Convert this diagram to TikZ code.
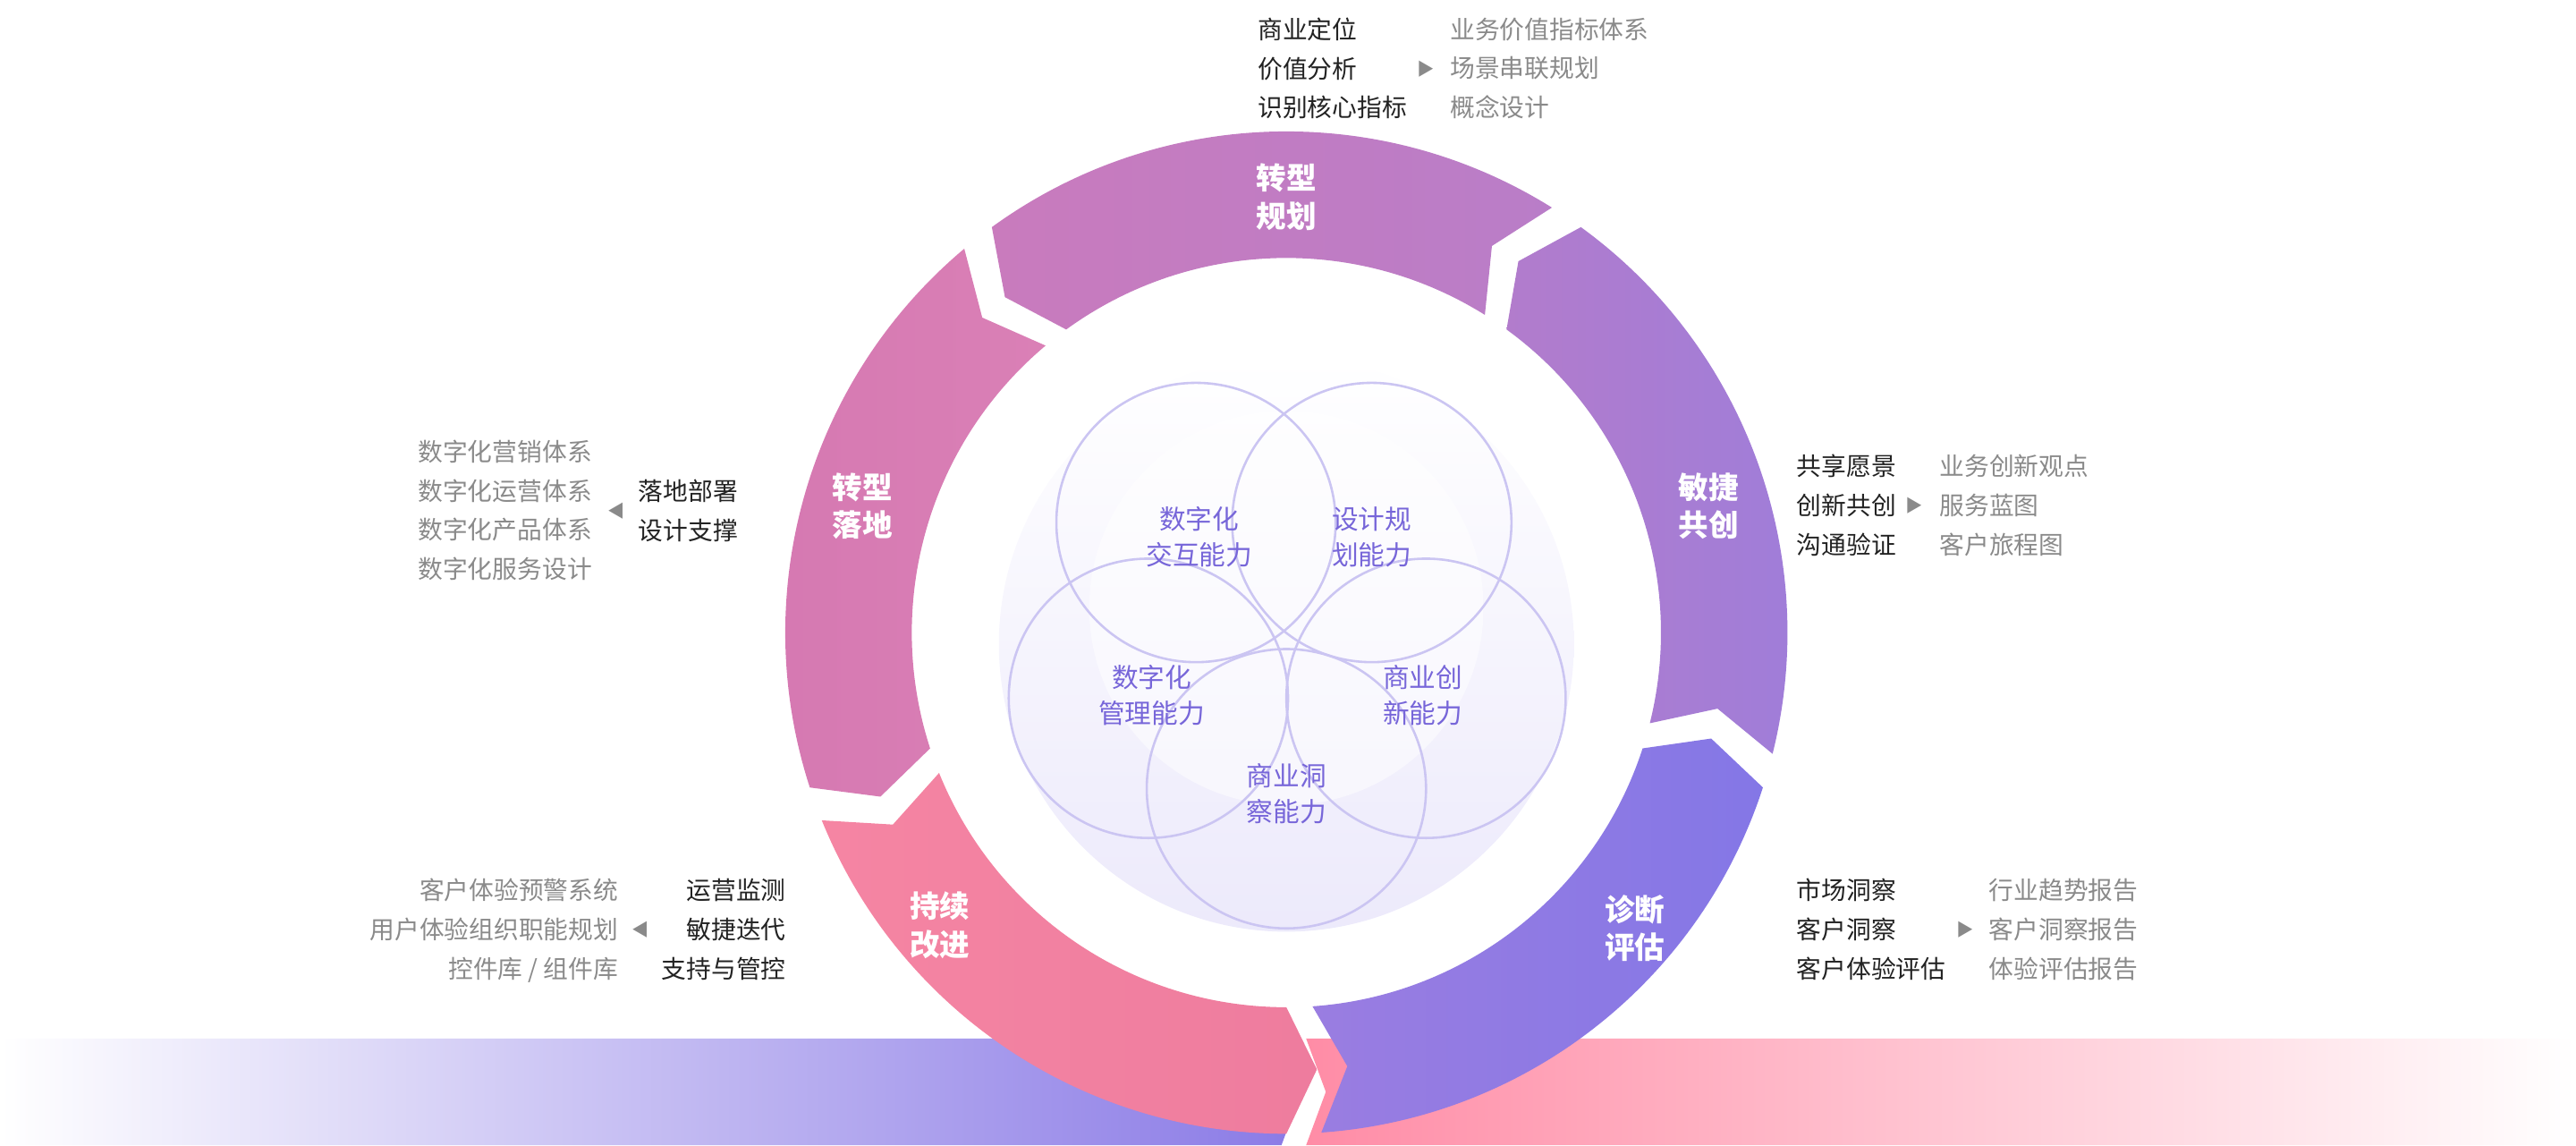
\documentclass[tikz,border=0pt]{standalone}
\usepackage{fontspec}
\setmainfont{Noto Sans CJK SC}
\usetikzlibrary{positioning}
\definecolor{txtdark}{HTML}{222222}
\definecolor{txtgrey}{HTML}{8A8A8A}
\definecolor{ringline}{HTML}{CBC5F2}
\definecolor{inlabel}{HTML}{7766D9}
\definecolor{bandviolet}{HTML}{8A7AE6}
\definecolor{bandpink}{HTML}{FF8CA6}
\newcommand{\Rout}{3.05}
\newcommand{\Rin}{2.28}
\newcommand{\Rmid}{2.665}
\begin{document}
\begin{tikzpicture}[
itemdark/.style={text=txtdark, font=\fontsize{4.3}{6.8}\selectfont, inner sep=0pt, align=left},
itemgrey/.style={text=txtgrey, font=\fontsize{4.3}{6.8}\selectfont, inner sep=0pt, align=left},
pointer/.style={text=txtgrey, font=\fontsize{3}{4}\selectfont, inner sep=0pt},
seglabel/.style={text=white, font=\bfseries\fontsize{5.2}{6.6}\selectfont, align=center},
skill/.style={text=inlabel, font=\fontsize{4.6}{6.2}\selectfont, align=center},
bubble/.style={draw=ringline, line width=0.4pt},
]
\useasboundingbox (0,0) rectangle (15.68,-6.97);

% bottom band
\shade[left color=white, right color=bandviolet]
    (0,-6.32) -- (7.8,-6.32) -- (7.92,-6.645) -- (7.8,-6.97) -- (0,-6.97) -- cycle;
\shade[left color=bandpink, right color=white]
    (7.95,-6.32) -- (15.68,-6.32) -- (15.68,-6.97) -- (7.95,-6.97) -- (8.07,-6.645) -- cycle;

% inner sphere
\shade[top color=white, bottom color=bandviolet!16] (7.83,-3.92) circle (1.75);
\shade[inner color=white, outer color=white, opacity=0.5] (7.83,-3.70) circle (1.2);
\node[bubble, circle, minimum size=1.7cm] (c1) at (7.28,-3.18) {};
\node[bubble, circle, minimum size=1.7cm] (c2) at (8.35,-3.18) {};
\node[bubble, circle, minimum size=1.7cm] (c3) at (8.68,-4.25) {};
\node[bubble, circle, minimum size=1.7cm] (c4) at (7.83,-4.80) {};
\node[bubble, circle, minimum size=1.7cm] (c5) at (6.99,-4.25) {};
\node[skill] (s1) at (7.30,-3.27) {数字化\\交互能力};
\node[skill] (s2) at (8.35,-3.27) {设计规\\划能力};
\node[skill] (s3) at (8.66,-4.23) {商业创\\新能力};
\node[skill] (s4) at (7.83,-4.83) {商业洞\\察能力};
\node[skill] (s5) at (7.01,-4.23) {数字化\\管理能力};

% ring segments, pointing anticlockwise
\begin{scope}[shift={(7.83,-3.85)}]
\foreach \k/\ca/\cb in {0/C97BBD/B97DC8, 1/B27CCC/9E7DDA, 2/9A7DE1/8477E6, 3/F585A3/EE7C9E, 4/D578B1/DA80B6}{
    \pgfmathsetmacro{\s}{128-72*\k-2}
    \pgfmathsetmacro{\e}{56-72*\k+2}
    \definecolor{ca}{HTML}{\ca}
    \definecolor{cb}{HTML}{\cb}
    \shade[left color=ca, right color=cb]
        (\s:\Rout) arc[start angle=\s, end angle=\e, radius=\Rout]
        -- (\e+4:\Rmid) -- (\e:\Rin)
        arc[start angle=\e, end angle=\s, radius=\Rin]
        -- (\s+4:\Rmid) -- cycle;
}
\end{scope}
\node[seglabel] (plan) at (7.83,-1.20) {转型\\规划};
\node[seglabel] (agile) at (10.40,-3.08) {敏捷\\共创};
\node[seglabel] (diag) at (9.95,-5.65) {诊断\\评估};
\node[seglabel] (improve) at (5.72,-5.63) {持续\\改进};
\node[seglabel] (land) at (5.25,-3.08) {转型\\落地};

% top
\node[itemdark, anchor=north west] (planL) at (7.65,-0.10) {商业定位\\价值分析\\识别核心指标};
\node[pointer] (planP) at (8.68,-0.42) {▶};
\node[itemgrey, anchor=north west] (planR) at (8.82,-0.10) {业务价值指标体系\\场景串联规划\\概念设计};
% right upper
\node[itemdark, anchor=north west] (agileL) at (10.93,-2.76) {共享愿景\\创新共创\\沟通验证};
\node[pointer] (agileP) at (11.65,-3.08) {▶};
\node[itemgrey, anchor=north west] (agileR) at (11.80,-2.76) {业务创新观点\\服务蓝图\\客户旅程图};
% right lower
\node[itemdark, anchor=north west] (diagL) at (10.93,-5.34) {市场洞察\\客户洞察\\客户体验评估};
\node[pointer] (diagP) at (11.96,-5.66) {▶};
\node[itemgrey, anchor=north west] (diagR) at (12.10,-5.34) {行业趋势报告\\客户洞察报告\\体验评估报告};
% left upper
\node[itemdark, anchor=north west] (landR) at (3.88,-2.91) {落地部署\\设计支撑};
\node[pointer] (landP) at (3.75,-3.11) {◀};
\node[itemgrey, anchor=north east, align=right] (landL) at (3.61,-2.67) {数字化营销体系\\数字化运营体系\\数字化产品体系\\数字化服务设计};
% left lower
\node[itemdark, anchor=north east, align=right] (impR) at (4.79,-5.34) {运营监测\\敏捷迭代\\支持与管控};
\node[pointer] (impP) at (3.90,-5.66) {◀};
\node[itemgrey, anchor=north east, align=right] (impL) at (3.77,-5.34) {客户体验预警系统\\用户体验组织职能规划\\控件库 / 组件库};
\end{tikzpicture}
\end{document}
